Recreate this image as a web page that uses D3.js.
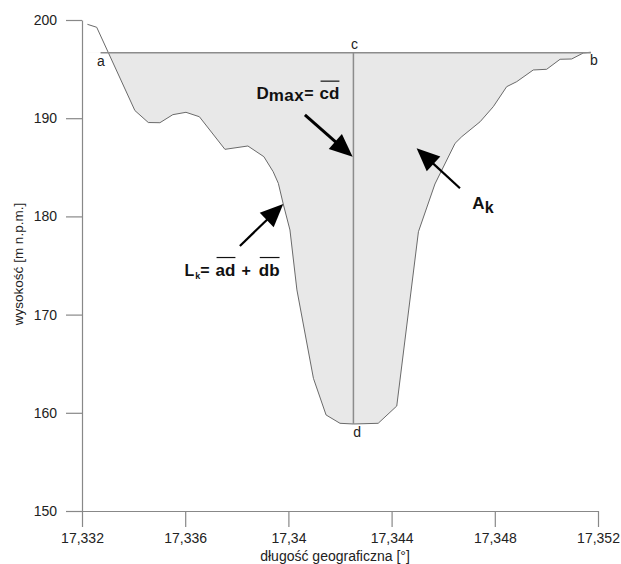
<!DOCTYPE html>
<html><head><meta charset="utf-8">
<script src="https://cdn.jsdelivr.net/npm/d3@7"></script>
<style>
body{margin:0;background:#fff;}
text{font-family:"Liberation Sans",Arial,sans-serif;}
</style></head>
<body>
<svg id="chart" width="621" height="564"></svg>
<script>
// ---- data ----
const lon = [17.33221,17.33257,17.33405,17.33457,17.33502,17.33552,17.33603,17.33655,17.33754,17.33843,17.33905,17.33941,17.33961,17.3398,17.34006,17.34033,17.34097,17.34146,17.34200,17.34252,17.34348,17.3442,17.34504,17.34568,17.34646,17.34672,17.34743,17.34794,17.34846,17.34885,17.34949,17.35001,17.35053,17.35098,17.35143,17.35172];
const elev = [199.56,199.26,190.78,189.56,189.54,190.36,190.60,190.15,186.83,187.17,186.08,184.55,183.37,181.26,178.62,172.51,163.51,159.78,158.93,158.86,158.93,160.69,178.44,183.30,187.44,188.12,189.64,191.17,193.21,193.72,194.91,194.98,196.00,196.03,196.64,196.72];
const waterLevel = 196.66;
const waterStart = 17.33272, waterEnd = 17.35173;
const dLon = 17.34252, dElev = 158.86;
const xTicks = [17.332,17.336,17.340,17.344,17.348,17.352];
const yTicks = [150,160,170,180,190,200];
const xTitle = "długość geograficzna [°]";
const yTitle = "wysokość [m n.p.m.]";
// point labels [text, lon, elev]
const pointLabels = [["a",17.33258,195.35,"start"],["b",17.35169,195.42,"start"],["c",17.34256,197.05,"middle"],["d",17.34266,157.54,"middle"]];
// arrows [tailLon, tailElev, tipLon, tipElev, width]
const arrows = [[17.34064,190.33,17.34249,186.08,3],[17.33812,176.99,17.3398,181.26,2.2],[17.34665,182.86,17.34497,186.93,2.2]];

const svg = d3.select("#chart");
const x = d3.scaleLinear().domain([17.332,17.352]).range([82,598]);
const y = d3.scaleLinear().domain([150,200]).range([511,20]);
const pts = lon.map((v,i)=>[v,elev[i]]);

// clip for water body
svg.append("defs").append("clipPath").attr("id","below")
  .append("rect").attr("x",0).attr("y",y(waterLevel)).attr("width",621).attr("height",564);
svg.append("path").datum(pts).attr("clip-path","url(#below)")
  .attr("d", d3.area().x(d=>x(d[0])).y0(y(waterLevel)).y1(d=>y(d[1])))
  .attr("fill","#e8e8e8").attr("stroke","none");
svg.append("path").datum(pts)
  .attr("d", d3.line().x(d=>x(d[0])).y(d=>y(d[1])))
  .attr("fill","none").attr("stroke","#6a6a6a").attr("stroke-width",1);
svg.append("line").attr("x1",x(waterStart)).attr("x2",x(waterEnd))
  .attr("y1",y(waterLevel)).attr("y2",y(waterLevel)).attr("stroke","#8c8c8c").attr("stroke-width",1.5);
svg.append("line").attr("x1",x(dLon)).attr("x2",x(dLon))
  .attr("y1",y(waterLevel)).attr("y2",y(dElev)).attr("stroke","#8c8c8c").attr("stroke-width",1.5);

// axes
const fmt = d => d3.format(".3~f")(d).replace(".",",");
const xa = svg.append("g").attr("transform",`translate(0,${y(150)})`)
  .call(d3.axisBottom(x).tickValues(xTicks).tickFormat(fmt).tickSize(16).tickSizeOuter(0).tickPadding(6));
const ya = svg.append("g").attr("transform",`translate(${x(17.332)},0)`)
  .call(d3.axisLeft(y).tickValues(yTicks).tickSize(16).tickSizeOuter(0).tickPadding(9));
[xa,ya].forEach(g=>{
  g.select(".domain").attr("stroke","#888").attr("stroke-width",1.2);
  g.selectAll(".tick line").attr("stroke","#888").attr("stroke-width",1.2);
  g.selectAll(".tick text").attr("font-size",14).attr("fill","#222").attr("font-family","Liberation Sans, Arial, sans-serif");
});
svg.append("text").attr("x",335).attr("y",561).attr("text-anchor","middle")
  .attr("font-size",14).attr("fill","#222").text(xTitle);
svg.append("text").attr("transform","translate(23,264) rotate(-90)").attr("text-anchor","middle")
  .attr("font-size",13.5).attr("fill","#222").text(yTitle);

// point labels
pointLabels.forEach(([t,lo,el,anc])=>{
  svg.append("text").attr("x",x(lo)).attr("y",y(el)).attr("text-anchor",anc)
    .attr("font-size",14).attr("fill","#222").text(t);
});

// arrows
arrows.forEach(([tl,te,hl,he,w])=>{
  const x0=x(tl),y0=y(te),x1=x(hl),y1=y(he);
  const ang=Math.atan2(y1-y0,x1-x0), L=23, W=10;
  const bx=x1-L*Math.cos(ang), by=y1-L*Math.sin(ang);
  svg.append("line").attr("x1",x0).attr("y1",y0).attr("x2",bx+3*Math.cos(ang)).attr("y2",by+3*Math.sin(ang))
    .attr("stroke","#000").attr("stroke-width",w);
  const px=-Math.sin(ang), py=Math.cos(ang);
  svg.append("path").attr("d",`M${x1},${y1}L${bx+W*px},${by+W*py}L${bx-W*px},${by-W*py}Z`).attr("fill","#000");
});

// formula labels built from pieces
function formula(lo, el, pieces){
  let cx = x(lo); const base = y(el);
  pieces.forEach(p=>{
    const t = svg.append("text").attr("x",cx).attr("y",base+(p.dy||0))
      .attr("font-size",p.size).attr("font-weight","bold").attr("fill","#111")
      .attr("letter-spacing",p.ls||0).text(p.t);
    const w = t.node().getComputedTextLength();
    if(p.over){
      svg.append("line").attr("x1",cx+1).attr("x2",cx+w).attr("y1",base-p.size*1.07).attr("y2",base-p.size*1.07)
        .attr("stroke","#111").attr("stroke-width",1.2);
    }
    cx += w + (p.gap||0);
  });
}
formula(17.33876,191.92,[{t:"D",size:17},{t:"max",size:17,dy:2,ls:0.5},{t:"=",size:16,gap:6},{t:"cd",size:17,over:true}]);
formula(17.33597,173.96,[{t:"L",size:16,gap:1},{t:"k",size:9,dy:3},{t:"=",size:16,gap:6},{t:"ad",size:17,over:true,gap:6},{t:"+",size:16,gap:8},{t:"db",size:17,over:true}]);
formula(17.34713,180.75,[{t:"A",size:17},{t:"k",size:16,dy:4}]);
</script>
</body></html>
